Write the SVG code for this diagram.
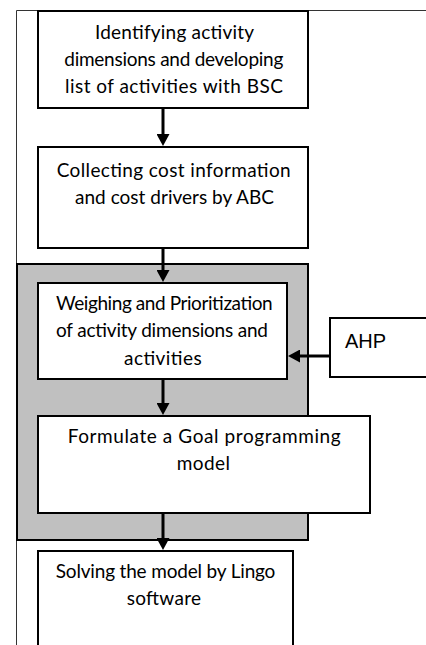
<svg xmlns="http://www.w3.org/2000/svg" width="426" height="645" viewBox="0 0 426 645">
<defs>
<style>
.box{fill:#fff;stroke:#000;stroke-width:2}
.grp{fill:#c0c0c0;stroke:#000;stroke-width:2}
.frame{fill:none;stroke:#333;stroke-width:1}
.t{font-family:Lato,"Liberation Sans",sans-serif;font-size:19px;fill:#000}
.ahp{font-family:"Liberation Sans",Arial,sans-serif;font-size:20px;fill:#000}
.c{stroke:#000;stroke-width:3;fill:none;marker-end:url(#ah)}
</style>
<marker id="ah" markerUnits="userSpaceOnUse" markerWidth="13" markerHeight="13" refX="1" refY="6.5" orient="auto">
<path d="M0,0 L12,6.5 L0,13 Z" fill="#000"/>
</marker>
</defs>
<rect width="426" height="645" fill="#fff"/>
<g id="frame">
<path class="frame" d="M16.5,645 V10.5 H426"/>
</g>
<g id="group-area">
<rect class="grp" x="17" y="264" width="291" height="276"/>
</g>
<g id="node1">
<rect class="box" x="38" y="11" width="270" height="97"/>
<text class="t" x="95" y="38.5" textLength="159" lengthAdjust="spacing">Identifying activity</text>
<text class="t" x="64.3" y="65.5" textLength="219" lengthAdjust="spacing">dimensions and developing</text>
<text class="t" x="65" y="93" textLength="218" lengthAdjust="spacing">list of activities with BSC</text>
</g>
<g id="node2">
<rect class="box" x="38" y="147" width="270" height="101"/>
<text class="t" x="56.7" y="177" textLength="234" lengthAdjust="spacing">Collecting cost information</text>
<text class="t" x="75" y="204" textLength="199" lengthAdjust="spacing">and cost drivers by ABC</text>
</g>
<g id="node3">
<rect class="box" x="38" y="283" width="249" height="96"/>
<text class="t" x="56" y="310" textLength="216.7" lengthAdjust="spacing">Weighing and Prioritization</text>
<text class="t" x="56" y="337.3" textLength="212" lengthAdjust="spacing">of activity dimensions and</text>
<text class="t" x="124" y="365" textLength="77.7" lengthAdjust="spacing">activities</text>
</g>
<g id="node-ahp">
<rect class="box" x="330" y="318" width="110" height="59"/>
<text class="ahp" x="345" y="348">AHP</text>
</g>
<g id="node4">
<rect class="box" x="38" y="416" width="332" height="97"/>
<text class="t" x="67.7" y="442.7" textLength="273" lengthAdjust="spacing">Formulate a Goal programming</text>
<text class="t" x="176.7" y="470" textLength="53.3" lengthAdjust="spacing">model</text>
</g>
<g id="node5">
<rect class="box" x="38" y="551" width="255" height="110"/>
<text class="t" x="55.7" y="578.3" textLength="219.7" lengthAdjust="spacing">Solving the model by Lingo</text>
<text class="t" x="126.7" y="605" textLength="74.3" lengthAdjust="spacing">software</text>
</g>
<g id="connectors">
<line class="c" x1="163" y1="108" x2="163" y2="135"/>
<line class="c" x1="163" y1="248" x2="163" y2="271"/>
<line class="c" x1="163" y1="379" x2="163" y2="404"/>
<line class="c" x1="163" y1="513" x2="163" y2="539"/>
<line class="c" x1="330" y1="356" x2="299" y2="356"/>
</g>
</svg>
